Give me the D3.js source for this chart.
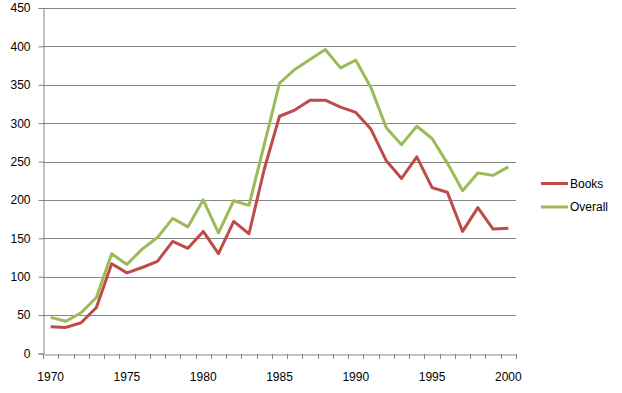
<!DOCTYPE html>
<html>
<head>
<meta charset="utf-8">
<script src="https://d3js.org/d3.v7.min.js"></script>
<style>
    body { margin: 0; background: #fff; }
    svg text { font-family: "Liberation Sans", Arial, sans-serif; font-size: 12px; fill: #000; }
</style>
</head>
<body>
<svg id="chart" width="622" height="393"></svg>
<script>
// data
var years = d3.range(1970, 2001);
var books = [35, 34, 40, 60, 117, 105, 112, 120, 146, 137, 159, 130, 172, 156, 240,
             309, 317, 330, 330, 321, 314, 292, 251, 228, 256, 216, 210, 159, 190, 162, 163];
var overall = [47, 42, 53, 73, 130, 116, 136, 151, 176, 165, 200, 157, 199, 193, 272,
               352, 370, 383, 396, 372, 382, 346, 294, 272, 296, 280, 248, 212, 235, 232, 243];
var yTicks = [0, 50, 100, 150, 200, 250, 300, 350, 400, 450];
var xLabels = [1970, 1975, 1980, 1985, 1990, 1995, 2000];

var series = [
    { name: "Books", values: books, color: "#BE4B48" },
    { name: "Overall", values: overall, color: "#9BBB59" }
];

var svg = d3.select("#chart");
// plot area edges (note: "top" is taken by window.top)
var plotLeft = 43, plotRight = 516, plotTop = 8, plotBottom = 353.5;

var x = d3.scaleBand().domain(years).range([plotLeft, plotRight]);
var y = d3.scaleLinear().domain([0, 450]).range([plotBottom, plotTop]);

// gridlines
svg.append("g").selectAll("line")
    .data(yTicks.slice(1))
    .enter().append("line")
    .attr("x1", plotLeft).attr("x2", plotRight)
    .attr("y1", function (d) { return Math.round(y(d)) + 0.5; })
    .attr("y2", function (d) { return Math.round(y(d)) + 0.5; })
    .attr("stroke", "#868686");

// y axis
var yAxis = svg.append("g")
    .attr("transform", "translate(" + (plotLeft + 0.5) + ",0)")
    .call(d3.axisLeft(y).tickValues(yTicks).tickSize(5).tickPadding(8));
yAxis.selectAll("line, path").attr("stroke", "#868686");
yAxis.selectAll("text").attr("font-size", null).attr("font-family", null);

// x axis: labels every 5 years, tick marks between categories
var xAxis = svg.append("g")
    .attr("transform", "translate(0," + (Math.round(plotBottom) + 0.5) + ")")
    .call(d3.axisBottom(x).tickValues(xLabels).tickSize(0).tickPadding(18));
xAxis.select("path").attr("stroke", "#868686");
xAxis.selectAll("text").attr("font-size", null).attr("font-family", null);

svg.append("g").selectAll("line")
    .data(years.concat([null]))
    .enter().append("line")
    .attr("x1", function (d, i) { return Math.round(plotLeft + i * x.step()) + 0.5; })
    .attr("x2", function (d, i) { return Math.round(plotLeft + i * x.step()) + 0.5; })
    .attr("y1", Math.round(plotBottom)).attr("y2", Math.round(plotBottom) + 5)
    .attr("stroke", "#868686");

// lines
var line = d3.line()
    .x(function (d, i) { return x(years[i]) + x.bandwidth() / 2; })
    .y(function (d) { return y(d); });

svg.append("g").selectAll("path")
    .data(series)
    .enter().append("path")
    .attr("d", function (s) { return line(s.values); })
    .attr("fill", "none")
    .attr("stroke", function (s) { return s.color; })
    .attr("stroke-width", 3)
    .attr("stroke-linejoin", "round");

// legend
var legend = svg.append("g").selectAll("g")
    .data(series)
    .enter().append("g")
    .attr("transform", function (d, i) { return "translate(541," + (183.5 + i * 23.5) + ")"; });
legend.append("line")
    .attr("x1", 0).attr("x2", 27)
    .attr("stroke", function (d) { return d.color; })
    .attr("stroke-width", 3);
legend.append("text")
    .attr("x", 29).attr("dy", "0.35em")
    .text(function (d) { return d.name; });
</script>
</body>
</html>
